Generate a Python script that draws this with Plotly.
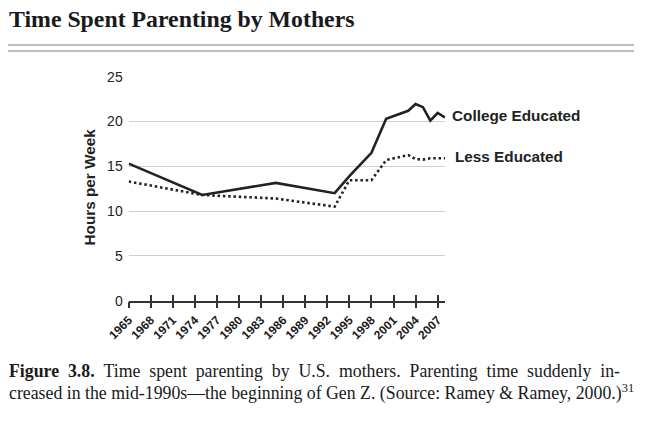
import plotly.graph_objects as go

W, H = 659, 426

years_college = [1965, 1975, 1985, 1993, 1995, 1998, 2000, 2003, 2004, 2005, 2006, 2007, 2008]
college = [15.3, 11.8, 13.15, 12.0, 13.9, 16.5, 20.3, 21.2, 21.95, 21.6, 20.1, 20.95, 20.45]

years_less = [1965, 1975, 1985, 1993, 1995, 1998, 2000, 2003, 2004, 2005, 2006, 2007, 2008]
less = [13.3, 11.8, 11.4, 10.5, 13.45, 13.45, 15.7, 16.25, 15.8, 15.75, 15.9, 15.9, 15.9]

tick_years = list(range(1965, 2008, 3))
y_ticks = [0, 5, 10, 15, 20, 25]

series_names = ["College Educated", "Less Educated"]
title_text = "Time Spent Parenting by Mothers"
y_title = "Hours per Week"
ES = "\u2002"
caption1 = ES.join(["<b>Figure", "3.8.</b>", "Time", "spent", "parenting", "by", "U.S.", "mothers.",
                    "Parenting", "time", "suddenly", "in-"])
caption2 = "creased in the mid-1990s\u2014the beginning of Gen Z. (Source: Ramey &amp; Ramey, 2000.)<sup>31</sup>"

ink = "#222222"
x0, x1 = 128.7, 445.0
y0, y1 = 300.7, 76.7
sans = "Liberation Sans, Arial, sans-serif"
serif = "Liberation Serif, Times New Roman, serif"

fig = go.Figure()
fig.add_trace(go.Scatter(x=years_college, y=college, mode="lines", name=series_names[0],
                         line=dict(color=ink, width=2.6), xaxis="x", yaxis="y"))
fig.add_trace(go.Scatter(x=years_less, y=less, mode="lines", name=series_names[1],
                         line=dict(color=ink, width=2.6, dash="2.5px,2.8px"), xaxis="x2", yaxis="y"))

# Series labels at the end of each line
fig.add_annotation(x=years_college[-1], y=college[-1], xref="x", yref="y", text="<b>" + series_names[0] + "</b>",
                   showarrow=False, xanchor="left", yanchor="middle", xshift=5, yshift=2,
                   font=dict(family=sans, size=15.3, color=ink))
fig.add_annotation(x=years_less[-1], y=less[-1], xref="x", yref="y", text="<b>" + series_names[1] + "</b>",
                   showarrow=False, xanchor="left", yanchor="middle", xshift=8, yshift=2,
                   font=dict(family=sans, size=15.3, color=ink))

# Title
fig.add_annotation(x=7 / W, y=1 - 19 / H, xref="paper", yref="paper", text="<b>" + title_text + "</b>",
                   showarrow=False, xanchor="left", yanchor="middle",
                   font=dict(family=serif, size=23.8, color="#1a1a1a"))
# Y title
fig.add_annotation(x=88.5 / W, y=1 - 187 / H, xref="paper", yref="paper", text="<b>" + y_title + "</b>",
                   textangle=-90, showarrow=False, xanchor="center", yanchor="middle",
                   font=dict(family=sans, size=15.3, color=ink))
# Caption
fig.add_annotation(x=7 / W, y=1 - 371 / H, xref="paper", yref="paper", text=caption1,
                   showarrow=False, xanchor="left", yanchor="middle",
                   font=dict(family=serif, size=17.8, color="#1a1a1a"))
fig.add_annotation(x=7 / W, y=1 - 392 / H, xref="paper", yref="paper", text=caption2,
                   showarrow=False, xanchor="left", yanchor="middle",
                   font=dict(family=serif, size=17.8, color="#1a1a1a"))

# Double rule below title
for yy in (45, 51):
    fig.add_shape(type="line", xref="paper", yref="paper", x0=8 / W, x1=634 / W,
                  y0=1 - yy / H, y1=1 - yy / H, line=dict(color="#a8a8a8", width=1.5))

xdom = [x0 / W, x1 / W]
common_x = dict(range=[1965, 2008], domain=xdom, tickvals=tick_years, showgrid=False, zeroline=False)

fig.update_layout(
    width=W, height=H,
    margin=dict(l=0, r=0, t=0, b=0),
    paper_bgcolor="white", plot_bgcolor="white",
    showlegend=False,
    xaxis=dict(**common_x, ticktext=["<b>%d</b>" % v for v in tick_years], tickangle=-45,
               ticks="outside", ticklen=6, tickwidth=1.5, tickcolor="#333",
               showline=True, linecolor="#333", linewidth=1.5, anchor="y",
               tickfont=dict(family=sans, size=12, color="#1a1a1a"), automargin=False),
    xaxis2=dict(**common_x, overlaying="x", matches="x", anchor="y", side="bottom",
                ticks="inside", ticklen=6, tickwidth=1.5, tickcolor="#333",
                showticklabels=False, showline=False),
    yaxis=dict(range=[0, 25], domain=[1 - y0 / H, 1 - y1 / H], tickvals=y_ticks,
               showgrid=True, gridcolor="#cfcfcf", gridwidth=1, zeroline=False, showline=False,
               ticks="", ticklabelstandoff=5,
               tickfont=dict(family=sans, size=14, color=ink), automargin=False),
)

fig.write_html("out.html", config={"displayModeBar": False},
               post_script="document.body.style.margin='0';document.body.style.padding='0';")
